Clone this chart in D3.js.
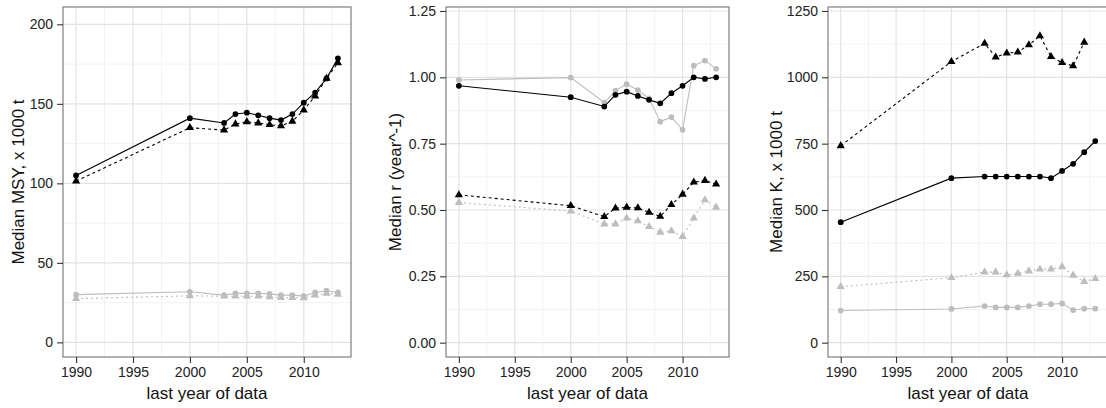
<!DOCTYPE html>
<html>
<head>
  <title>Median MSY, r and K</title>
  <style type="text/css">
    body { margin: 0; background: #fff; }
    svg { display: block; font-family: "Liberation Sans", Arial, sans-serif; }
  </style>
</head>
<body>

<div id="chart"></div>

<script src="https://d3js.org/d3.v7.min.js"></script>
<script type="text/javascript">
// last year of data
var years = [1990, 2000, 2003, 2004, 2005, 2006, 2007, 2008, 2009, 2010, 2011, 2012, 2013];
var xTicks = [1990, 1995, 2000, 2005, 2010];

// median MSY, x 1000 t
var msyBlackSolid  = [105, 141, 138, 143.6, 144.4, 142.8, 141, 139.8, 143.6, 150.7, 157, 166, 178.6];
var msyBlackDashed = [101.4, 135, 133.5, 137.3, 138.7, 137.9, 136.9, 136.2, 139, 146.1, 154.9, 166, 175.8];
var msyGreySolid   = [30, 31.8, 29.7, 30.8, 30.8, 30.8, 30.5, 29.7, 29.7, 29.1, 31.4, 32.5, 31.4];
var msyGreyDashed  = [27.5, 29.3, 29, 29, 29, 29, 28.6, 28.1, 28.1, 28, 29.7, 30.8, 30.2];
var msyTicks = [0, 50, 100, 150, 200];

// median r (year^-1)
var rBlackSolid  = [0.968, 0.925, 0.890, 0.934, 0.946, 0.930, 0.915, 0.902, 0.940, 0.968, 1.000, 0.994, 1.000];
var rBlackDashed = [0.557, 0.516, 0.475, 0.507, 0.510, 0.508, 0.491, 0.476, 0.520, 0.559, 0.605, 0.611, 0.597];
var rGreySolid   = [0.990, 0.999, 0.905, 0.950, 0.974, 0.952, 0.921, 0.833, 0.850, 0.802, 1.044, 1.063, 1.032];
var rGreyDashed  = [0.528, 0.496, 0.447, 0.447, 0.469, 0.459, 0.437, 0.416, 0.421, 0.400, 0.469, 0.538, 0.510];
var rTicks = [0, 0.25, 0.5, 0.75, 1, 1.25];

// median K, x 1000 t
var kBlackSolid  = [454, 620, 626, 626, 626, 626, 626, 626, 620, 647, 674, 718, 760];
var kBlackDashed = [742, 1059, 1128, 1076, 1091, 1095, 1122, 1156, 1078, 1055, 1043, 1132, null];
var kGreySolid   = [121, 127, 138, 133, 133, 133, 138, 145, 145, 148, 123, 128, 128];
var kGreyDashed  = [211, 245, 266, 266, 255, 261, 270, 277, 277, 286, 254, 230, 241];
var kTicks = [0, 250, 500, 750, 1000, 1250];

var width = 1106, height = 408;
var plotTop = 7, plotBottom = 357;

var panels = [
  { left: 63,  right: 351,  y: [-9.2, 210.9], ticks: msyTicks, fmt: d3.format("d"),
    title: "Median MSY, x 1000 t", titleX: 18,
    series: [msyGreySolid, msyGreyDashed, msyBlackSolid, msyBlackDashed] },
  { left: 446, right: 729,  y: [-0.054, 1.265], ticks: rTicks, fmt: d3.format(".2f"),
    title: "Median r (year^-1)", titleX: 395,
    series: [rGreySolid, rGreyDashed, rBlackSolid, rBlackDashed] },
  { left: 828, right: 1108, y: [-54, 1265], ticks: kTicks, fmt: d3.format("d"),
    title: "Median K, x 1000 t", titleX: 776,
    series: [kGreySolid, kGreyDashed, kBlackSolid, kBlackDashed] }
];

// grey solid, grey dashed, black solid, black dashed
var styles = [
  { color: "#bdbdbd", dash: null,  shape: "circle" },
  { color: "#bdbdbd", dash: "2,3", shape: "triangle" },
  { color: "#000",    dash: null,  shape: "circle" },
  { color: "#000",    dash: "3,3", shape: "triangle" }
];

var svg = d3.select("#chart")
  .append("svg")
  .attr("width", width)
  .attr("height", height);

panels.forEach(function (p) {
  var x = d3.scaleLinear().domain([1988.85, 2014.15]).range([p.left, p.right]);
  var y = d3.scaleLinear().domain(p.y).range([plotBottom, plotTop]);
  var g = svg.append("g");

  var step = p.ticks[1] - p.ticks[0];
  var yMinor = p.ticks.map(t => t + step / 2).filter(t => t < p.y[1]);
  var xMinor = xTicks.map(t => t + 2.5);

  // minor grid
  g.selectAll(".ymin").data(yMinor).enter().append("line")
    .attr("x1", p.left).attr("x2", p.right)
    .attr("y1", d => y(d)).attr("y2", d => y(d))
    .attr("stroke", "#f3f3f3").attr("stroke-width", 1);
  g.selectAll(".xmin").data(xMinor).enter().append("line")
    .attr("x1", d => x(d)).attr("x2", d => x(d))
    .attr("y1", plotTop).attr("y2", plotBottom)
    .attr("stroke", "#f3f3f3").attr("stroke-width", 1);

  // major grid
  g.selectAll(".ymaj").data(p.ticks).enter().append("line")
    .attr("x1", p.left).attr("x2", p.right)
    .attr("y1", d => y(d)).attr("y2", d => y(d))
    .attr("stroke", "#e3e3e3").attr("stroke-width", 1.2);
  g.selectAll(".xmaj").data(xTicks).enter().append("line")
    .attr("x1", d => x(d)).attr("x2", d => x(d))
    .attr("y1", plotTop).attr("y2", plotBottom)
    .attr("stroke", "#e3e3e3").attr("stroke-width", 1.2);

  // series
  p.series.forEach(function (vals, i) {
    var s = styles[i];
    var pts = years.map((yr, j) => ({ yr: yr, v: vals[j] })).filter(d => d.v != null);
    var line = d3.line().x(d => x(d.yr)).y(d => y(d.v));
    g.append("path")
      .datum(pts)
      .attr("d", line)
      .attr("fill", "none")
      .attr("stroke", s.color)
      .attr("stroke-width", 1.1)
      .attr("stroke-dasharray", s.dash);
    var sym = d3.symbol()
      .type(s.shape === "circle" ? d3.symbolCircle : d3.symbolTriangle)
      .size(s.shape === "circle" ? 26 : 29);
    g.selectAll(null).data(pts).enter().append("path")
      .attr("d", sym)
      .attr("transform", d => "translate(" + x(d.yr) + "," + y(d.v) + ")")
      .attr("fill", s.color);
  });

  // border
  g.append("rect")
    .attr("x", p.left).attr("y", plotTop)
    .attr("width", p.right - p.left).attr("height", plotBottom - plotTop)
    .attr("fill", "none")
    .attr("stroke", "#7f7f7f").attr("stroke-width", 1.2);

  // axes
  var yAxis = d3.axisLeft(y).tickValues(p.ticks).tickFormat(p.fmt).tickSize(6).tickPadding(4);
  var ya = g.append("g").attr("transform", "translate(" + p.left + ",0)").call(yAxis);
  var xAxis = d3.axisBottom(x).tickValues(xTicks).tickFormat(d3.format("d")).tickSize(6).tickPadding(4);
  var xa = g.append("g").attr("transform", "translate(0," + plotBottom + ")").call(xAxis);
  [ya, xa].forEach(function (a) {
    a.select(".domain").remove();
    a.selectAll(".tick line").attr("stroke", "#333").attr("stroke-width", 1.1);
    a.selectAll(".tick text").attr("fill", "#222").style("font-size", "14px");
  });

  g.append("text")
    .attr("x", x(2001.5))
    .attr("y", 399)
    .attr("text-anchor", "middle")
    .style("font-size", "17px")
    .attr("fill", "#111")
    .text("last year of data");

  g.append("text")
    .attr("transform", "translate(" + p.titleX + "," + ((plotTop + plotBottom) / 2) + ")rotate(-90)")
    .attr("dy", "0.35em")
    .attr("text-anchor", "middle")
    .style("font-size", "17px")
    .attr("fill", "#111")
    .text(p.title);
});
</script>
</body>
</html>
